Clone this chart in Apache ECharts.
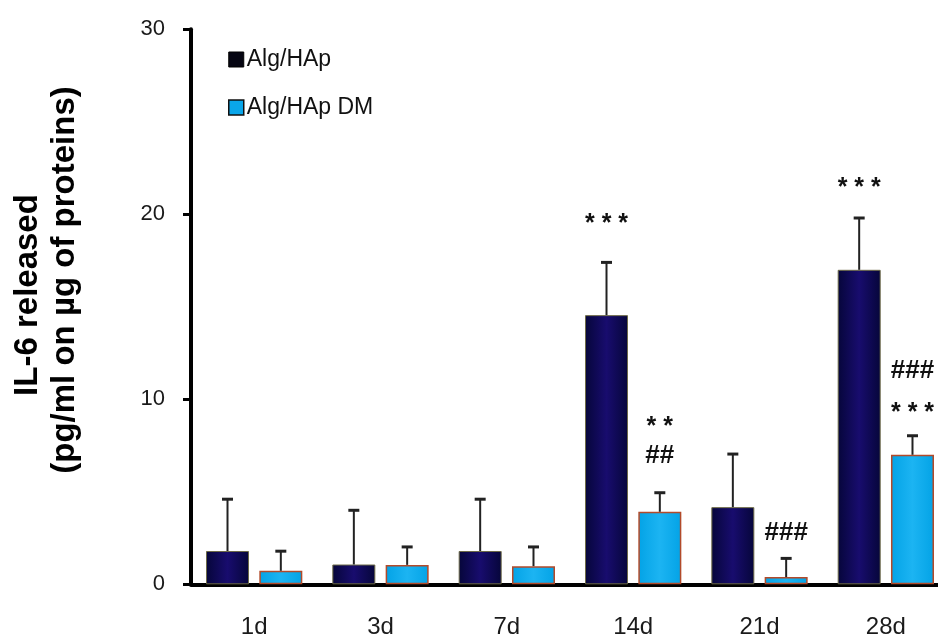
<!DOCTYPE html>
<html>
<head>
<meta charset="utf-8">
<script src="https://cdn.jsdelivr.net/npm/echarts@6/dist/echarts.min.js"></script>
<style>
html,body{margin:0;padding:0;background:#fff;}
#chart{width:938px;height:637px;}
</style>
</head>
<body>
<div id="chart"></div>
<script>
// ---- data ----
var categories = ['1d', '3d', '7d', '14d', '21d', '28d'];
var seriesNames = ['Alg/HAp', 'Alg/HAp DM'];
var algHAp = [1.8, 1.07, 1.8, 14.55, 4.17, 17.0];
var algHApErr = [2.8, 2.93, 2.8, 2.85, 2.87, 2.8];
var algHApDM = [0.73, 1.05, 0.98, 3.92, 0.39, 7.0];
var algHApDMErr = [1.06, 0.97, 1.04, 1.03, 1.01, 1.03];
var yTicks = [0, 10, 20, 30];
// significance marks: [category index, side (0 = Alg/HAp, 1 = Alg/HAp DM), value level, text]
var markCats = [3, 3, 3, 4, 5, 5, 5];
var markSides = [0, 1, 1, 1, 0, 1, 1];
var markLevels = [19.7, 8.7, 6.95, 2.76, 21.63, 11.52, 9.48];
var markTexts = ['* * *', '* *', '##', '###', '* * *', '###', '* * *'];

// ---- layout constants ----
var BAR_W = 43;
var BAR_GAP = '24%';
var SIDE_OFFSET = (BAR_W * 2 + BAR_W * 0.24) / 2 - BAR_W / 2;
var FONT = '"Liberation Sans", Arial, Helvetica, sans-serif';

var chart = echarts.init(document.getElementById('chart'), null, {renderer: 'canvas'});

var errData = [];
for (var i = 0; i < categories.length; i++) {
  errData.push([i, algHAp[i], algHApErr[i], 0]);
  errData.push([i, algHApDM[i], algHApDMErr[i], 1]);
}
var markData = [];
for (var j = 0; j < markCats.length; j++) {
  markData.push([markCats[j], markLevels[j], markSides[j]]);
}

function sideShift(side) { return side === 0 ? -SIDE_OFFSET : SIDE_OFFSET; }

var darkGrad = new echarts.graphic.LinearGradient(0, 0, 1, 0, [
  {offset: 0, color: '#06063a'}, {offset: 0.5, color: '#180c6e'}, {offset: 1, color: '#06063a'}
]);
var lightGrad = new echarts.graphic.LinearGradient(0, 0, 1, 0, [
  {offset: 0, color: '#03a3e6'}, {offset: 0.5, color: '#1cb4f2'}, {offset: 1, color: '#03a3e6'}
]);

var option = {
  animation: false,
  backgroundColor: '#ffffff',
  grid: {left: 191, top: 29.3, width: 758, height: 555, containLabel: false, outerBoundsMode: 'none'},
  legend: {
    orient: 'vertical',
    left: 223,
    top: 43,
    itemWidth: 15,
    itemHeight: 15,
    itemGap: 25,
    textStyle: {fontFamily: FONT, fontSize: 23, color: '#111', padding: [0, 0, 0, -2]},
    data: [
      {name: seriesNames[0], icon: 'rect', itemStyle: {color: '#050512', borderColor: '#000', borderWidth: 1}},
      {name: seriesNames[1], icon: 'rect', itemStyle: {color: '#0aa6ea', borderColor: '#111', borderWidth: 1.5}}
    ]
  },
  xAxis: {
    type: 'category',
    data: categories,
    boundaryGap: true,
    axisLine: {show: true, lineStyle: {color: '#000', width: 4}},
    axisTick: {show: false},
    axisLabel: {color: '#1a1a1a', fontFamily: FONT, fontSize: 24, margin: 31},
    splitLine: {show: false}
  },
  yAxis: {
    type: 'value',
    min: yTicks[0],
    max: yTicks[yTicks.length - 1],
    interval: yTicks[1] - yTicks[0],
    axisLine: {show: true, lineStyle: {color: '#000', width: 4}},
    axisTick: {show: true, inside: false, length: 8, lineStyle: {color: '#000', width: 3}},
    axisLabel: {color: '#1a1a1a', fontFamily: FONT, fontSize: 22, margin: 26},
    splitLine: {show: false}
  },
  graphic: [
    {type: 'text', x: 28, y: 295, rotation: Math.PI / 2,
     style: {text: 'IL-6 released', font: 'bold 33px ' + FONT, fill: '#000', textAlign: 'center', textVerticalAlign: 'middle'}},
    {type: 'text', x: 65, y: 280, rotation: Math.PI / 2,
     style: {text: '(pg/ml on \u00b5g of proteins)', font: 'bold 33px ' + FONT, fill: '#000', textAlign: 'center', textVerticalAlign: 'middle'}}
  ],
  series: [
    {
      name: seriesNames[0], type: 'bar', data: algHAp, barWidth: BAR_W, barGap: BAR_GAP,
      itemStyle: {color: darkGrad, borderColor: '#6d6a48', borderWidth: 1}
    },
    {
      name: seriesNames[1], type: 'bar', data: algHApDM, barWidth: BAR_W, barGap: BAR_GAP,
      itemStyle: {color: lightGrad, borderColor: '#b24a2a', borderWidth: 1.5}
    },
    {
      type: 'custom', name: 'err', data: errData, z: 5,
      encode: {x: 0, y: 1},
      renderItem: function (params, api) {
        var idx = api.value(0), mean = api.value(1), err = api.value(2), side = api.value(3);
        var p0 = api.coord([idx, mean]);
        var p1 = api.coord([idx, mean + err]);
        var x = p0[0] + sideShift(side);
        return {
          type: 'group',
          children: [
            {type: 'line', shape: {x1: x, y1: p0[1], x2: x, y2: p1[1]}, style: {stroke: '#222', lineWidth: 2}},
            {type: 'line', shape: {x1: x - 5.5, y1: p1[1], x2: x + 5.5, y2: p1[1]}, style: {stroke: '#222', lineWidth: 3}}
          ]
        };
      }
    },
    {
      type: 'custom', name: 'marks', data: markData, z: 6,
      encode: {x: 0, y: 1},
      renderItem: function (params, api) {
        var idx = api.value(0), lvl = api.value(1), side = api.value(2);
        var txt = markTexts[params.dataIndex];
        var p = api.coord([idx, lvl]);
        var isStar = txt.indexOf('*') >= 0;
        return {
          type: 'text',
          x: p[0] + sideShift(side),
          y: p[1] + (isStar ? 4 : 0),
          style: {
            text: txt,
            font: 'bold ' + (isStar ? 25 : 26) + 'px ' + FONT,
            fill: '#111',
            textAlign: 'center',
            textVerticalAlign: 'middle'
          }
        };
      }
    }
  ]
};
chart.setOption(option);
</script>
</body>
</html>
